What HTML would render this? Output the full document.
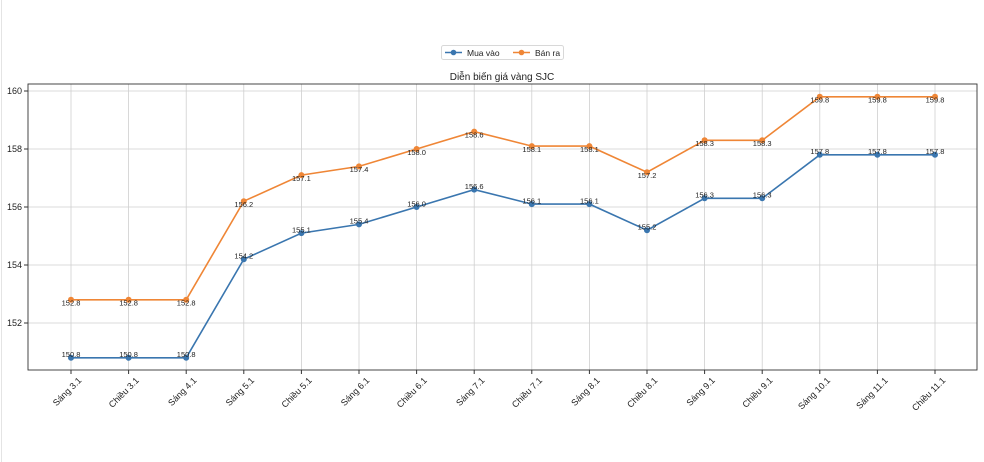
<!DOCTYPE html>
<html><head><meta charset="utf-8"><style>
html,body{margin:0;padding:0;background:#fff;}
svg{display:block;font-family:"Liberation Sans","DejaVu Sans",sans-serif;}
</style></head><body>
<svg width="984" height="462" viewBox="0 0 984 462" xmlns="http://www.w3.org/2000/svg">
<rect x="0" y="0" width="984" height="462" fill="#fff"/>
<line x1="1.5" y1="0" x2="1.5" y2="462" stroke="#e4e4e4"/>
<g stroke="#cfcfcf" stroke-width="0.8">
<line x1="28" x2="977" y1="323" y2="323"/><line x1="28" x2="977" y1="265" y2="265"/><line x1="28" x2="977" y1="207" y2="207"/><line x1="28" x2="977" y1="149" y2="149"/><line x1="28" x2="977" y1="91" y2="91"/>
<line x1="71" x2="71" y1="84" y2="370"/><line x1="128.6" x2="128.6" y1="84" y2="370"/><line x1="186.2" x2="186.2" y1="84" y2="370"/><line x1="243.8" x2="243.8" y1="84" y2="370"/><line x1="301.4" x2="301.4" y1="84" y2="370"/><line x1="359" x2="359" y1="84" y2="370"/><line x1="416.6" x2="416.6" y1="84" y2="370"/><line x1="474.2" x2="474.2" y1="84" y2="370"/><line x1="531.8" x2="531.8" y1="84" y2="370"/><line x1="589.4" x2="589.4" y1="84" y2="370"/><line x1="647" x2="647" y1="84" y2="370"/><line x1="704.6" x2="704.6" y1="84" y2="370"/><line x1="762.2" x2="762.2" y1="84" y2="370"/><line x1="819.8" x2="819.8" y1="84" y2="370"/><line x1="877.4" x2="877.4" y1="84" y2="370"/><line x1="935" x2="935" y1="84" y2="370"/>
</g>
<rect x="28" y="84" width="949" height="286" fill="none" stroke="#333" stroke-width="0.9"/>
<g stroke="#333"><line x1="24" x2="28" y1="323" y2="323"/><line x1="24" x2="28" y1="265" y2="265"/><line x1="24" x2="28" y1="207" y2="207"/><line x1="24" x2="28" y1="149" y2="149"/><line x1="24" x2="28" y1="91" y2="91"/></g>
<g font-size="9" fill="#222" text-anchor="end">
<text x="22" y="326">152</text><text x="22" y="268">154</text><text x="22" y="210">156</text><text x="22" y="152">158</text><text x="22" y="94">160</text>
</g>
<g stroke="#333"><line x1="71" x2="71" y1="370" y2="374"/><line x1="128.6" x2="128.6" y1="370" y2="374"/><line x1="186.2" x2="186.2" y1="370" y2="374"/><line x1="243.8" x2="243.8" y1="370" y2="374"/><line x1="301.4" x2="301.4" y1="370" y2="374"/><line x1="359" x2="359" y1="370" y2="374"/><line x1="416.6" x2="416.6" y1="370" y2="374"/><line x1="474.2" x2="474.2" y1="370" y2="374"/><line x1="531.8" x2="531.8" y1="370" y2="374"/><line x1="589.4" x2="589.4" y1="370" y2="374"/><line x1="647" x2="647" y1="370" y2="374"/><line x1="704.6" x2="704.6" y1="370" y2="374"/><line x1="762.2" x2="762.2" y1="370" y2="374"/><line x1="819.8" x2="819.8" y1="370" y2="374"/><line x1="877.4" x2="877.4" y1="370" y2="374"/><line x1="935" x2="935" y1="370" y2="374"/></g>
<g font-size="9" fill="#222" text-anchor="end">
<text transform="translate(82,381) rotate(-45)">Sáng 3.1</text>
<text transform="translate(139.6,381) rotate(-45)">Chiều 3.1</text>
<text transform="translate(197.2,381) rotate(-45)">Sáng 4.1</text>
<text transform="translate(254.8,381) rotate(-45)">Sáng 5.1</text>
<text transform="translate(312.4,381) rotate(-45)">Chiều 5.1</text>
<text transform="translate(370,381) rotate(-45)">Sáng 6.1</text>
<text transform="translate(427.6,381) rotate(-45)">Chiều 6.1</text>
<text transform="translate(485.2,381) rotate(-45)">Sáng 7.1</text>
<text transform="translate(542.8,381) rotate(-45)">Chiều 7.1</text>
<text transform="translate(600.4,381) rotate(-45)">Sáng 8.1</text>
<text transform="translate(658,381) rotate(-45)">Chiều 8.1</text>
<text transform="translate(715.6,381) rotate(-45)">Sáng 9.1</text>
<text transform="translate(773.2,381) rotate(-45)">Chiều 9.1</text>
<text transform="translate(830.8,381) rotate(-45)">Sáng 10.1</text>
<text transform="translate(888.4,381) rotate(-45)">Sáng 11.1</text>
<text transform="translate(946,381) rotate(-45)">Chiều 11.1</text>
</g>
<polyline fill="none" stroke="#3a76af" stroke-width="1.6" points="71,357.8 128.6,357.8 186.2,357.8 243.8,259.2 301.4,233.1 359,224.4 416.6,207 474.2,189.6 531.8,204.1 589.4,204.1 647,230.2 704.6,198.3 762.2,198.3 819.8,154.8 877.4,154.8 935,154.8"/>
<polyline fill="none" stroke="#ef8636" stroke-width="1.6" points="71,299.8 128.6,299.8 186.2,299.8 243.8,201.2 301.4,175.1 359,166.4 416.6,149 474.2,131.6 531.8,146.1 589.4,146.1 647,172.2 704.6,140.3 762.2,140.3 819.8,96.8 877.4,96.8 935,96.8"/>
<g fill="#3a76af"><circle cx="71" cy="357.8" r="3"/><circle cx="128.6" cy="357.8" r="3"/><circle cx="186.2" cy="357.8" r="3"/><circle cx="243.8" cy="259.2" r="3"/><circle cx="301.4" cy="233.1" r="3"/><circle cx="359" cy="224.4" r="3"/><circle cx="416.6" cy="207" r="3"/><circle cx="474.2" cy="189.6" r="3"/><circle cx="531.8" cy="204.1" r="3"/><circle cx="589.4" cy="204.1" r="3"/><circle cx="647" cy="230.2" r="3"/><circle cx="704.6" cy="198.3" r="3"/><circle cx="762.2" cy="198.3" r="3"/><circle cx="819.8" cy="154.8" r="3"/><circle cx="877.4" cy="154.8" r="3"/><circle cx="935" cy="154.8" r="3"/></g>
<g fill="#ef8636"><circle cx="71" cy="299.8" r="3"/><circle cx="128.6" cy="299.8" r="3"/><circle cx="186.2" cy="299.8" r="3"/><circle cx="243.8" cy="201.2" r="3"/><circle cx="301.4" cy="175.1" r="3"/><circle cx="359" cy="166.4" r="3"/><circle cx="416.6" cy="149" r="3"/><circle cx="474.2" cy="131.6" r="3"/><circle cx="531.8" cy="146.1" r="3"/><circle cx="589.4" cy="146.1" r="3"/><circle cx="647" cy="172.2" r="3"/><circle cx="704.6" cy="140.3" r="3"/><circle cx="762.2" cy="140.3" r="3"/><circle cx="819.8" cy="96.8" r="3"/><circle cx="877.4" cy="96.8" r="3"/><circle cx="935" cy="96.8" r="3"/></g>
<g font-size="7.5" fill="#222" text-anchor="middle">
<text x="71" y="357">150.8</text><text x="128.6" y="357">150.8</text><text x="186.2" y="357">150.8</text><text x="243.8" y="258.5">154.2</text><text x="301.4" y="232.5">155.1</text><text x="359" y="223.5">155.4</text><text x="416.6" y="206.5">156.0</text><text x="474.2" y="189">156.6</text><text x="531.8" y="203.5">156.1</text><text x="589.4" y="203.5">156.1</text><text x="647" y="229.5">155.2</text><text x="704.6" y="197.5">156.3</text><text x="762.2" y="197.5">156.3</text><text x="819.8" y="154">157.8</text><text x="877.4" y="154">157.8</text><text x="935" y="154">157.8</text>
<text x="71" y="305.5">152.8</text><text x="128.6" y="305.5">152.8</text><text x="186.2" y="305.5">152.8</text><text x="243.8" y="207">156.2</text><text x="301.4" y="181">157.1</text><text x="359" y="172">157.4</text><text x="416.6" y="155">158.0</text><text x="474.2" y="137.5">158.6</text><text x="531.8" y="152">158.1</text><text x="589.4" y="152">158.1</text><text x="647" y="178">157.2</text><text x="704.6" y="146">158.3</text><text x="762.2" y="146">158.3</text><text x="819.8" y="102.5">159.8</text><text x="877.4" y="102.5">159.8</text><text x="935" y="102.5">159.8</text>
</g>
<text x="502" y="80" font-size="10" fill="#222" text-anchor="middle">Diễn biến giá vàng SJC</text>
<rect x="441.5" y="45.5" width="122" height="14" rx="2" fill="#fff" stroke="#d8d8d8"/>
<line x1="445" x2="462" y1="52.5" y2="52.5" stroke="#3a76af" stroke-width="1.6"/><circle cx="453.5" cy="52.5" r="2.8" fill="#3a76af"/>
<text x="467" y="55.8" font-size="8.5" fill="#222">Mua vào</text>
<line x1="513" x2="530" y1="52.5" y2="52.5" stroke="#ef8636" stroke-width="1.6"/><circle cx="521.5" cy="52.5" r="2.8" fill="#ef8636"/>
<text x="535" y="55.8" font-size="8.5" fill="#222">Bán ra</text>
</svg>
</body></html>
